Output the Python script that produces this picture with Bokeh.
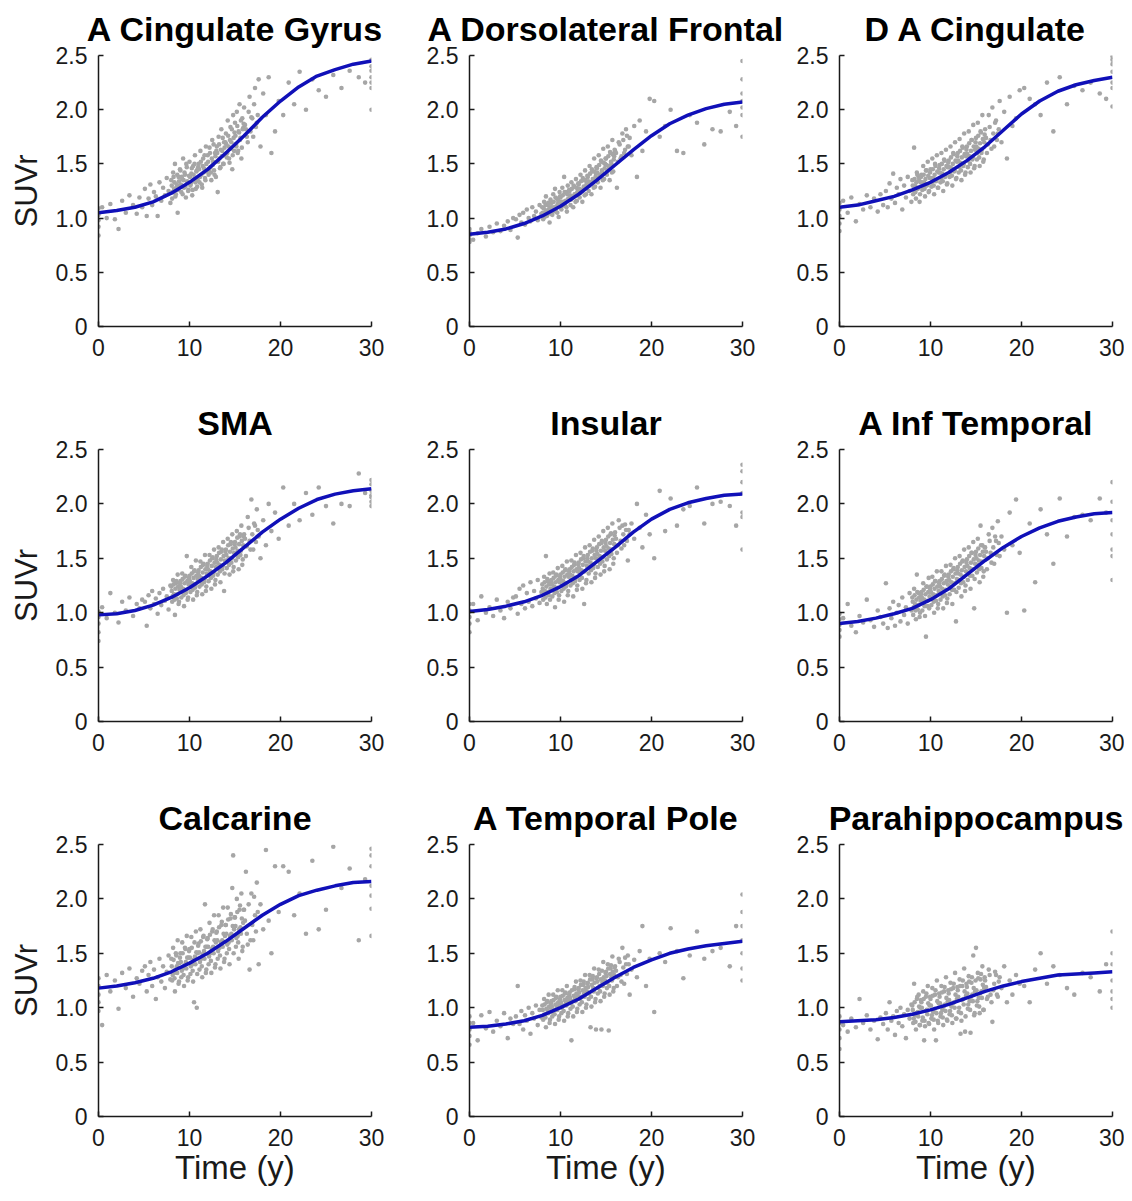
import json
from bokeh.plotting import figure
from bokeh.layouts import gridplot
from bokeh.models import Range1d, FixedTicker, CustomJSTickFormatter
from bokeh.embed import file_html
from bokeh.resources import INLINE

# ---------------- text / ticks ----------------
TITLES = ["A Cingulate Gyrus", "A Dorsolateral Frontal", "D A Cingulate",
          "SMA", "Insular", "A Inf Temporal",
          "Calcarine", "A Temporal Pole", "Parahippocampus"]
X_LABEL = "Time (y)"
Y_LABEL = "SUVr"
X_TICKS = [0, 10, 20, 30]
Y_TICKS = [0, 0.5, 1.0, 1.5, 2.0, 2.5]
Y_TICK_LABELS = ["0", "0.5", "1.0", "1.5", "2.0", "2.5"]

# ---------------- subjects' time (shared by all regions) ----------------
time_y = [
    0, 0, 0, 0, 0,
    0.4, 0.9, 1.3, 1.8, 2.2, 2.6, 3.0, 3.4, 3.8, 4.2, 4.5, 4.8,
    5.1, 5.3, 5.5, 5.7, 5.9, 6.1, 6.3, 6.5, 6.7, 6.9, 7.1, 7.3, 7.5, 7.7, 7.9,
    8.0, 8.1, 8.2, 8.3, 8.4, 8.5, 8.6, 8.7, 8.8, 8.9,
    9.0, 9.1, 9.2, 9.3, 9.4, 9.5, 9.6, 9.7, 9.8, 9.9,
    10.0, 10.1, 10.2, 10.3, 10.4, 10.5, 10.6, 10.7, 10.8, 10.9,
    11.0, 11.1, 11.2, 11.3, 11.4, 11.5, 11.6, 11.7, 11.8, 11.9,
    12.0, 12.1, 12.2, 12.3, 12.4, 12.5, 12.6, 12.7, 12.8, 12.9,
    13.0, 13.1, 13.2, 13.3, 13.4, 13.5, 13.6, 13.7, 13.8, 13.9,
    14.0, 14.1, 14.2, 14.3, 14.4, 14.5, 14.6, 14.7, 14.8, 14.9,
    15.0, 15.1, 15.2, 15.3, 15.4, 15.5, 15.6, 15.7, 15.8, 15.9,
    16.0, 16.2, 16.4, 16.6, 16.8, 17.0, 17.2, 17.4, 17.6, 17.8, 18.1, 18.4, 18.7, 19.0, 19.4, 19.8,
    20.3, 20.9, 21.5, 22.1, 22.8, 23.5, 24.2, 25.0, 25.8, 26.7, 27.6, 28.6, 29.3,
    30, 30, 30, 30, 30, 30, 30,
    8.05, 8.15, 8.25, 8.35, 8.45, 8.55, 8.65, 8.75, 8.85, 8.95,
    9.05, 9.15, 9.25, 9.35, 9.45, 9.55, 9.65, 9.75, 9.85, 9.95,
    10.05, 10.15, 10.25, 10.35, 10.45, 10.55, 10.65, 10.75, 10.85, 10.95,
    11.05, 11.15, 11.25, 11.35, 11.45, 11.55, 11.65, 11.75, 11.85, 11.95,
    12.05, 12.15, 12.25, 12.35, 12.45, 12.55, 12.65, 12.75, 12.85, 12.95,
    13.05, 13.15, 13.25, 13.35, 13.45, 13.55, 13.65, 13.75, 13.85, 13.95,
    14.05, 14.15, 14.25, 14.35, 14.45, 14.55, 14.65, 14.75, 14.85, 14.95,
    15.05, 15.15, 15.25, 15.35, 15.45, 15.55, 15.65, 15.75, 15.85, 15.95,
    16.1, 16.3, 16.5, 16.7, 16.9, 17.1, 17.3, 17.5,
]

# ---------------- SUVr per region ----------------
suvr_a_cingulate_gyrus = [
    0.84, 0.92, 0.98, 1.03, 1.09,
    1.10, 1.00, 1.13, 0.99, 0.90, 1.16, 1.05, 1.21, 1.12, 1.04, 1.19, 1.10,
    1.27, 1.02, 1.18, 1.31, 1.12, 1.24, 1.20, 1.02, 1.33, 1.16, 1.28, 1.21, 1.37, 1.25, 1.14,
    1.35, 1.18, 1.42, 1.27, 1.50, 1.22, 1.31, 1.05, 1.38, 1.29,
    1.44, 1.24, 1.36, 1.55, 1.28, 1.40, 1.19, 1.47, 1.33, 1.26,
    1.52, 1.30, 1.41, 1.21, 1.48, 1.36, 1.58, 1.27, 1.44, 1.35,
    1.50, 1.33, 1.62, 1.40, 1.28, 1.55, 1.46, 1.37, 1.66, 1.43,
    1.58, 1.40, 1.65, 1.47, 1.35, 1.72, 1.52, 1.44, 1.60, 1.38,
    1.66, 1.24, 1.75, 1.55, 1.47, 1.82, 1.62, 1.50, 1.70, 1.58,
    1.78, 1.56, 1.90, 1.66, 1.51, 1.84, 1.70, 1.45, 1.95, 1.62,
    1.88, 1.68, 1.98, 1.60, 1.80, 2.05, 1.74, 1.55, 1.92, 1.83,
    2.02, 1.82, 1.70, 2.12, 1.93, 1.75, 2.20, 1.88, 2.28, 1.66, 2.15, 1.95, 2.30, 1.60, 1.80, 2.08,
    1.95, 2.25, 2.05, 2.35, 2.00, 2.28, 2.18, 2.12, 2.32, 2.20, 2.36, 2.30, 2.25,
    2.00, 2.20, 2.25, 2.30, 2.36, 2.40, 2.46,
    1.30, 1.24, 1.38, 1.33, 1.20, 1.28, 1.40, 1.26, 1.34, 1.45,
    1.31, 1.38, 1.22, 1.35, 1.42, 1.29, 1.50, 1.34, 1.25, 1.39,
    1.38, 1.32, 1.46, 1.26, 1.40, 1.50, 1.33, 1.43, 1.29, 1.47,
    1.45, 1.38, 1.52, 1.31, 1.48, 1.42, 1.58, 1.35, 1.50, 1.44,
    1.52, 1.45, 1.60, 1.42, 1.55, 1.49, 1.68, 1.40, 1.57, 1.62,
    1.60, 1.52, 1.68, 1.46, 1.63, 1.57, 1.74, 1.50, 1.65, 1.70,
    1.68, 1.60, 1.76, 1.55, 1.72, 1.64, 1.82, 1.58, 1.74, 1.79,
    1.76, 1.66, 1.85, 1.62, 1.79, 1.72, 1.90, 1.65, 1.82, 1.87,
    1.86, 1.75, 1.98, 1.80, 1.92, 2.05, 1.84, 1.95,
]
suvr_a_dorsolateral_frontal = [
    0.80, 0.84, 0.87, 0.90, 0.78,
    0.80, 0.86, 0.90, 0.83, 0.92, 0.87, 0.95, 0.88, 0.93, 0.97, 0.89, 1.00,
    0.99, 0.82, 1.03, 0.96, 1.05, 0.94, 1.08, 1.00, 0.97, 1.10, 1.02, 1.06, 0.98, 1.12, 1.04,
    1.10, 0.99, 1.15, 1.05, 1.20, 1.02, 1.12, 1.08, 0.96, 1.17,
    1.14, 1.03, 1.22, 1.10, 1.27, 1.06, 1.18, 1.13, 1.01, 1.24,
    1.19, 1.08, 1.28, 1.15, 1.38, 1.12, 1.24, 1.06, 1.30, 1.17,
    1.25, 1.12, 1.33, 1.20, 1.10, 1.29, 1.22, 1.36, 1.16, 1.27,
    1.31, 1.19, 1.40, 1.26, 1.15, 1.35, 1.28, 1.44, 1.22, 1.33,
    1.38, 1.25, 1.48, 1.33, 1.22, 1.43, 1.35, 1.55, 1.29, 1.41,
    1.46, 1.33, 1.58, 1.40, 1.28, 1.52, 1.42, 1.64, 1.36, 1.50,
    1.55, 1.40, 1.66, 1.48, 1.35, 1.60, 1.50, 1.72, 1.43, 1.57,
    1.62, 1.28, 1.70, 1.55, 1.78, 1.60, 1.82, 1.66, 1.74, 1.58, 1.85, 1.38, 1.90, 1.62, 1.80, 2.10,
    2.08, 1.75, 1.85, 2.00, 1.62, 1.60, 1.95, 1.88, 1.68, 1.82, 1.80, 1.98, 1.85,
    1.75, 1.95, 2.02, 2.08, 2.15, 2.28, 2.45,
    1.05, 1.09, 1.01, 1.12, 1.07, 1.03, 1.14, 1.06, 1.10, 1.04,
    1.10, 1.06, 1.15, 1.08, 1.19, 1.11, 1.05, 1.16, 1.12, 1.20,
    1.15, 1.11, 1.21, 1.13, 1.24, 1.16, 1.10, 1.22, 1.18, 1.26,
    1.21, 1.17, 1.27, 1.19, 1.30, 1.22, 1.15, 1.28, 1.24, 1.32,
    1.27, 1.23, 1.34, 1.25, 1.37, 1.29, 1.21, 1.35, 1.31, 1.39,
    1.34, 1.30, 1.41, 1.32, 1.45, 1.36, 1.28, 1.43, 1.38, 1.47,
    1.42, 1.37, 1.49, 1.39, 1.53, 1.44, 1.35, 1.51, 1.46, 1.55,
    1.49, 1.44, 1.57, 1.46, 1.61, 1.52, 1.42, 1.59, 1.54, 1.63,
    1.60, 1.52, 1.68, 1.57, 1.72, 1.63, 1.76, 1.66,
]
suvr_d_a_cingulate = [
    0.88, 0.95, 1.02, 1.08, 1.14,
    1.16, 1.05, 1.19, 0.97, 1.13, 1.08, 1.21, 1.10, 1.18, 1.06, 1.22, 1.12,
    1.25, 1.10, 1.32, 1.18, 1.41, 1.14, 1.28, 1.22, 1.36, 1.08, 1.30, 1.19, 1.38, 1.25, 1.15,
    1.35, 1.22, 1.65, 1.30, 1.18, 1.42, 1.27, 1.38, 1.15, 1.33,
    1.40, 1.26, 1.48, 1.33, 1.20, 1.44, 1.30, 1.52, 1.24, 1.37,
    1.45, 1.29, 1.55, 1.37, 1.22, 1.50, 1.34, 1.58, 1.28, 1.42,
    1.49, 1.33, 1.60, 1.41, 1.25, 1.54, 1.38, 1.63, 1.31, 1.47,
    1.53, 1.38, 1.66, 1.46, 1.30, 1.60, 1.43, 1.70, 1.36, 1.52,
    1.60, 1.42, 1.73, 1.51, 1.35, 1.66, 1.48, 1.78, 1.40, 1.57,
    1.66, 1.47, 1.80, 1.57, 1.42, 1.72, 1.54, 1.86, 1.46, 1.63,
    1.74, 1.54, 1.88, 1.64, 1.48, 1.80, 1.60, 1.95, 1.52, 1.70,
    1.82, 1.60, 1.95, 1.72, 2.02, 1.66, 1.90, 1.78, 2.08, 1.70, 1.98, 1.55, 2.12, 1.85, 1.92, 2.18,
    2.20, 2.10, 2.05, 1.95, 2.25, 1.80, 2.30, 2.05, 2.22, 2.18, 2.25, 2.15, 2.10,
    2.03, 2.20, 2.25, 2.35, 2.42, 2.46, 2.49,
    1.30, 1.26, 1.36, 1.24, 1.33, 1.40, 1.28, 1.35, 1.22, 1.38,
    1.33, 1.29, 1.40, 1.27, 1.36, 1.44, 1.31, 1.39, 1.25, 1.42,
    1.37, 1.33, 1.45, 1.30, 1.40, 1.48, 1.35, 1.43, 1.28, 1.46,
    1.42, 1.37, 1.50, 1.34, 1.45, 1.53, 1.39, 1.48, 1.32, 1.51,
    1.47, 1.42, 1.56, 1.39, 1.50, 1.59, 1.44, 1.53, 1.37, 1.57,
    1.53, 1.47, 1.62, 1.44, 1.56, 1.65, 1.50, 1.59, 1.42, 1.63,
    1.59, 1.53, 1.69, 1.50, 1.62, 1.72, 1.56, 1.66, 1.48, 1.70,
    1.66, 1.60, 1.76, 1.56, 1.69, 1.79, 1.63, 1.73, 1.54, 1.77,
    1.74, 1.68, 1.84, 1.64, 1.78, 1.88, 1.72, 1.82,
]
suvr_sma = [
    0.74, 0.82, 0.90, 0.96, 1.01,
    1.05, 0.95, 1.18, 1.00, 0.91, 1.10, 1.02, 1.14, 0.97, 1.08, 1.04, 1.12,
    1.10, 0.88, 1.16, 1.04, 1.20, 1.08, 1.13, 0.99, 1.18, 1.07, 1.22, 1.11, 1.15, 1.03, 1.25,
    1.24, 1.10, 1.30, 1.17, 0.98, 1.27, 1.13, 1.35, 1.08, 1.21,
    1.29, 1.14, 1.36, 1.22, 1.06, 1.33, 1.18, 1.52, 1.12, 1.26,
    1.34, 1.19, 1.42, 1.27, 1.12, 1.38, 1.23, 1.48, 1.16, 1.31,
    1.39, 1.24, 1.47, 1.32, 1.17, 1.44, 1.28, 1.53, 1.20, 1.36,
    1.45, 1.29, 1.53, 1.38, 1.22, 1.50, 1.34, 1.58, 1.26, 1.42,
    1.52, 1.35, 1.60, 1.44, 1.28, 1.56, 1.40, 1.65, 1.20, 1.48,
    1.58, 1.41, 1.68, 1.50, 1.35, 1.63, 1.46, 1.72, 1.38, 1.55,
    1.65, 1.48, 1.75, 1.57, 1.40, 1.70, 1.53, 1.80, 1.44, 1.62,
    1.72, 1.52, 1.88, 1.66, 2.04, 1.58, 1.80, 1.95, 1.70, 1.50, 1.85, 1.62, 2.00, 1.75, 1.92, 1.68,
    2.15, 1.80, 2.00, 1.85, 2.10, 1.90, 2.15, 1.98, 1.82, 2.00, 1.98, 2.28, 2.10,
    1.98, 2.02, 2.08, 2.12, 2.18, 2.22, 2.06,
    1.20, 1.15, 1.26, 1.12, 1.22, 1.29, 1.17, 1.24, 1.10, 1.27,
    1.24, 1.19, 1.31, 1.16, 1.27, 1.34, 1.21, 1.29, 1.14, 1.32,
    1.29, 1.24, 1.36, 1.21, 1.32, 1.39, 1.26, 1.34, 1.19, 1.37,
    1.34, 1.29, 1.42, 1.26, 1.37, 1.45, 1.31, 1.40, 1.24, 1.43,
    1.40, 1.35, 1.48, 1.32, 1.43, 1.51, 1.37, 1.46, 1.30, 1.49,
    1.46, 1.41, 1.55, 1.38, 1.49, 1.58, 1.43, 1.52, 1.36, 1.56,
    1.53, 1.47, 1.62, 1.44, 1.56, 1.65, 1.50, 1.59, 1.42, 1.63,
    1.60, 1.54, 1.69, 1.51, 1.63, 1.72, 1.57, 1.66, 1.49, 1.70,
    1.68, 1.61, 1.78, 1.58, 1.72, 1.82, 1.65, 1.76,
]
suvr_insular = [
    0.82, 0.90, 0.96, 1.02, 1.08,
    1.08, 0.93, 1.15, 1.00, 1.05, 0.97, 1.12, 1.02, 0.95, 1.10, 1.04, 1.14,
    1.15, 0.99, 1.22, 1.08, 1.25, 1.04, 1.18, 1.10, 1.28, 1.06, 1.20, 1.13, 1.30, 1.09, 1.19,
    1.26, 1.12, 1.33, 1.20, 1.52, 1.08, 1.29, 1.16, 1.36, 1.22,
    1.30, 1.15, 1.37, 1.24, 1.05, 1.34, 1.19, 1.41, 1.12, 1.28,
    1.35, 1.20, 1.43, 1.29, 1.10, 1.39, 1.24, 1.47, 1.16, 1.33,
    1.40, 1.25, 1.48, 1.34, 1.15, 1.44, 1.29, 1.53, 1.21, 1.38,
    1.46, 1.30, 1.55, 1.39, 1.22, 1.50, 1.08, 1.60, 1.27, 1.43,
    1.53, 1.36, 1.62, 1.46, 1.28, 1.57, 1.41, 1.67, 1.32, 1.50,
    1.60, 1.42, 1.70, 1.52, 1.35, 1.64, 1.47, 1.75, 1.38, 1.57,
    1.67, 1.49, 1.78, 1.59, 1.40, 1.72, 1.54, 1.82, 1.45, 1.63,
    1.74, 1.55, 1.85, 1.66, 1.80, 1.62, 1.76, 1.48, 1.72, 1.82, 1.68, 2.00, 1.78, 1.60, 1.90, 1.72,
    1.50, 2.12, 1.75, 2.05, 1.80, 1.95, 1.98, 2.15, 1.82, 2.00, 2.02, 1.98, 1.80,
    1.58, 1.88, 1.92, 2.10, 2.20, 2.30, 2.36,
    1.22, 1.17, 1.28, 1.14, 1.24, 1.31, 1.19, 1.26, 1.12, 1.29,
    1.26, 1.21, 1.32, 1.18, 1.28, 1.35, 1.23, 1.30, 1.16, 1.33,
    1.30, 1.25, 1.37, 1.22, 1.33, 1.40, 1.27, 1.35, 1.20, 1.38,
    1.35, 1.30, 1.42, 1.27, 1.38, 1.46, 1.32, 1.40, 1.25, 1.44,
    1.41, 1.35, 1.49, 1.32, 1.44, 1.52, 1.38, 1.47, 1.30, 1.50,
    1.47, 1.42, 1.56, 1.39, 1.50, 1.59, 1.44, 1.53, 1.36, 1.57,
    1.54, 1.48, 1.63, 1.45, 1.57, 1.66, 1.51, 1.60, 1.43, 1.64,
    1.61, 1.55, 1.70, 1.52, 1.64, 1.73, 1.58, 1.67, 1.50, 1.71,
    1.68, 1.62, 1.78, 1.59, 1.72, 1.81, 1.66, 1.76,
]
suvr_a_inf_temporal = [
    0.78, 0.84, 0.89, 0.94, 0.99,
    0.95, 1.08, 0.88, 0.82, 0.97, 0.91, 1.12, 0.93, 0.87, 1.02, 0.96, 0.90,
    1.27, 0.86, 1.04, 0.95, 1.10, 0.88, 1.00, 1.07, 0.92, 1.14, 0.98, 1.05, 0.90, 1.18, 1.02,
    1.14, 0.98, 1.22, 1.08, 0.94, 1.35, 1.03, 1.18, 0.96, 1.11,
    1.19, 1.02, 1.27, 1.12, 0.97, 0.78, 1.24, 1.06, 1.32, 1.15,
    1.24, 1.07, 1.33, 1.17, 1.00, 1.29, 1.11, 1.38, 1.04, 1.20,
    1.29, 1.12, 1.38, 1.22, 1.04, 1.34, 1.16, 1.43, 1.09, 1.26,
    1.35, 1.17, 1.44, 1.28, 1.08, 1.40, 1.21, 1.50, 0.92, 1.31,
    1.42, 1.23, 1.52, 1.35, 1.15, 1.47, 1.28, 1.58, 1.20, 1.38,
    1.49, 1.30, 1.60, 1.41, 1.22, 1.55, 1.34, 1.65, 1.04, 1.45,
    1.56, 1.37, 1.68, 1.48, 1.28, 1.80, 1.41, 1.62, 1.33, 1.52,
    1.60, 1.40, 1.72, 1.55, 1.78, 1.45, 1.66, 1.84, 1.52, 1.70, 1.58, 1.00, 1.92, 1.62, 2.04, 1.55,
    1.02, 1.82, 1.28, 1.95, 1.72, 1.45, 2.05, 1.70, 1.88, 1.90, 1.85, 2.05, 1.92,
    1.30, 1.52, 1.58, 1.72, 1.85, 2.02, 2.20,
    1.10, 1.05, 1.16, 1.02, 1.12, 1.19, 1.07, 1.14, 1.00, 1.17,
    1.14, 1.09, 1.21, 1.06, 1.17, 1.24, 1.11, 1.19, 1.04, 1.22,
    1.19, 1.13, 1.26, 1.10, 1.22, 1.29, 1.16, 1.24, 1.08, 1.27,
    1.24, 1.18, 1.31, 1.15, 1.27, 1.35, 1.21, 1.29, 1.13, 1.33,
    1.30, 1.24, 1.38, 1.21, 1.33, 1.41, 1.27, 1.36, 1.19, 1.39,
    1.36, 1.30, 1.45, 1.27, 1.39, 1.48, 1.33, 1.42, 1.25, 1.46,
    1.43, 1.37, 1.52, 1.34, 1.46, 1.55, 1.40, 1.49, 1.31, 1.53,
    1.50, 1.44, 1.59, 1.40, 1.53, 1.62, 1.47, 1.56, 1.38, 1.60,
    1.56, 1.50, 1.66, 1.46, 1.60, 1.70, 1.53, 1.64,
]
suvr_calcarine = [
    0.97, 1.05, 1.12, 1.20, 1.27,
    0.84, 1.30, 1.15, 1.25, 0.99, 1.32, 1.18, 1.36, 1.10, 1.27, 1.22, 1.34,
    1.38, 1.15, 1.30, 1.42, 1.20, 1.35, 1.08, 1.28, 1.45, 1.24, 1.38, 1.18, 1.33, 1.48, 1.26,
    1.45, 1.25, 1.55, 1.32, 1.15, 1.50, 1.38, 1.62, 1.22, 1.41,
    1.50, 1.28, 1.60, 1.36, 1.20, 1.55, 1.42, 1.66, 1.25, 1.46,
    1.54, 1.31, 1.65, 1.40, 1.24, 1.05, 1.47, 1.70, 1.00, 1.50,
    1.59, 1.35, 1.72, 1.45, 1.28, 1.65, 1.52, 1.95, 1.32, 1.56,
    1.64, 1.40, 1.78, 1.50, 1.32, 1.70, 1.56, 1.85, 1.37, 1.60,
    1.70, 1.45, 1.85, 1.55, 1.36, 1.76, 1.62, 1.92, 1.42, 1.66,
    1.76, 1.50, 1.92, 1.60, 1.40, 1.82, 1.68, 2.10, 2.40, 1.72,
    1.83, 1.56, 2.00, 1.66, 1.45, 1.90, 1.74, 2.05, 1.52, 1.78,
    1.90, 2.25, 1.58, 1.35, 2.05, 1.62, 1.85, 2.15, 1.40, 1.95, 1.72, 2.45, 1.80, 1.50, 2.30, 1.88,
    2.30, 2.25, 1.85, 2.05, 1.68, 2.35, 1.72, 1.90, 2.48, 2.10, 2.28, 1.62, 2.18,
    1.66, 1.91, 2.03, 2.12, 2.30, 2.40, 2.46,
    1.38, 1.30, 1.44, 1.27, 1.35, 1.48, 1.32, 1.41, 1.24, 1.46,
    1.42, 1.34, 1.50, 1.30, 1.39, 1.54, 1.36, 1.46, 1.28, 1.52,
    1.46, 1.38, 1.55, 1.34, 1.44, 1.60, 1.40, 1.51, 1.31, 1.57,
    1.51, 1.42, 1.61, 1.38, 1.49, 1.66, 1.45, 1.56, 1.35, 1.63,
    1.56, 1.47, 1.67, 1.43, 1.54, 1.72, 1.50, 1.62, 1.40, 1.69,
    1.62, 1.52, 1.74, 1.48, 1.60, 1.79, 1.56, 1.68, 1.45, 1.76,
    1.68, 1.58, 1.81, 1.54, 1.66, 1.86, 1.62, 1.75, 1.50, 1.83,
    1.75, 1.64, 1.88, 1.60, 1.72, 1.94, 1.68, 1.82, 1.56, 1.90,
    1.80, 1.68, 1.95, 1.62, 1.76, 2.02, 1.70, 1.88,
]
suvr_a_temporal_pole = [
    0.66, 0.74, 0.80, 0.86, 0.92,
    0.86, 0.70, 0.93, 0.81, 0.96, 0.78, 0.88, 0.83, 0.95, 0.72, 0.90, 0.85,
    0.92, 1.20, 0.85, 0.97, 0.80, 0.93, 0.88, 1.00, 0.76, 0.95, 0.90, 1.02, 0.84, 0.98, 0.91,
    1.02, 0.89, 1.08, 0.94, 0.82, 1.05, 0.97, 1.12, 0.86, 1.00,
    1.06, 0.92, 1.12, 0.98, 0.85, 1.09, 1.01, 1.16, 0.89, 1.03,
    1.10, 0.95, 1.16, 1.02, 0.88, 1.13, 1.05, 1.20, 0.92, 1.07,
    1.14, 0.99, 0.70, 1.06, 0.92, 1.17, 1.09, 1.24, 0.96, 1.11,
    1.18, 1.03, 1.25, 1.10, 0.96, 1.21, 1.13, 1.30, 1.00, 1.15,
    1.23, 1.08, 1.30, 0.82, 1.01, 1.26, 1.18, 1.36, 1.05, 0.80,
    1.28, 1.13, 1.35, 1.20, 1.06, 0.80, 1.23, 1.42, 1.10, 1.25,
    1.33, 1.18, 1.40, 0.79, 1.12, 1.36, 1.28, 1.47, 1.15, 1.30,
    1.38, 1.20, 1.45, 1.30, 1.55, 1.22, 1.40, 1.48, 1.12, 1.35, 1.44, 1.28, 1.52, 1.75, 1.20, 1.45,
    0.96, 1.50, 1.42, 1.73, 1.52, 1.27, 1.48, 1.70, 1.45, 1.52, 1.55, 1.38, 1.75,
    1.25, 1.36, 1.50, 1.62, 1.75, 1.88, 2.04,
    0.98, 0.93, 1.03, 0.91, 0.99, 1.06, 0.95, 1.01, 0.89, 1.04,
    1.01, 0.96, 1.07, 0.94, 1.03, 1.10, 0.98, 1.05, 0.92, 1.08,
    1.05, 1.00, 1.11, 0.97, 1.07, 1.14, 1.02, 1.09, 0.95, 1.12,
    1.09, 1.04, 1.16, 1.01, 1.11, 1.19, 1.06, 1.13, 0.99, 1.17,
    1.14, 1.08, 1.21, 1.05, 1.16, 1.24, 1.10, 1.18, 1.03, 1.22,
    1.19, 1.13, 1.26, 1.10, 1.21, 1.29, 1.15, 1.23, 1.08, 1.27,
    1.24, 1.18, 1.31, 1.15, 1.26, 1.34, 1.20, 1.28, 1.13, 1.32,
    1.29, 1.23, 1.36, 1.20, 1.31, 1.39, 1.25, 1.33, 1.18, 1.37,
    1.34, 1.28, 1.42, 1.24, 1.37, 1.46, 1.31, 1.40,
]
suvr_parahippocampus = [
    0.62, 0.72, 0.80, 0.86, 0.92,
    0.84, 0.78, 0.90, 0.82, 1.08, 0.86, 0.93, 0.80, 0.88, 0.71, 0.91, 0.85,
    0.95, 0.80, 1.05, 0.88, 0.92, 0.75, 0.97, 0.86, 1.00, 0.83, 0.94, 0.72, 0.98, 0.90, 1.03,
    1.02, 0.86, 1.22, 0.93, 0.80, 1.08, 0.96, 1.12, 0.84, 1.00,
    1.05, 0.88, 1.15, 0.70, 0.83, 1.10, 0.98, 1.20, 0.86, 1.02,
    1.08, 0.90, 1.18, 0.96, 0.80, 1.12, 0.70, 1.25, 0.88, 1.04,
    1.10, 0.92, 1.20, 0.98, 0.84, 1.15, 1.03, 1.28, 0.89, 1.06,
    1.13, 0.94, 1.23, 1.01, 0.86, 1.18, 1.05, 1.32, 0.90, 1.08,
    1.16, 0.96, 1.26, 0.76, 0.88, 1.20, 1.08, 1.36, 0.78, 1.11,
    1.19, 0.99, 1.29, 1.06, 0.77, 1.23, 1.12, 1.48, 0.93, 1.15,
    1.55, 1.02, 1.32, 1.09, 0.95, 1.26, 1.15, 1.38, 0.98, 1.18,
    1.25, 1.08, 1.35, 1.12, 0.87, 1.22, 1.30, 1.10, 1.28, 1.18, 1.38, 1.05, 1.25, 1.12, 1.30, 1.22,
    1.20, 1.05, 1.35, 1.50, 1.22, 1.38, 1.30, 1.18, 1.12, 1.32, 1.28, 1.15, 1.40,
    1.00, 1.08, 1.15, 1.25, 1.40, 1.50, 1.70,
    0.98, 0.90, 1.05, 0.87, 0.95, 1.10, 0.92, 1.01, 0.84, 1.07,
    1.00, 0.91, 1.08, 0.88, 0.97, 1.13, 0.94, 1.04, 0.85, 1.10,
    1.02, 0.93, 1.11, 0.89, 0.99, 1.16, 0.95, 1.06, 0.86, 1.13,
    1.04, 0.95, 1.14, 0.91, 1.01, 1.19, 0.97, 1.09, 0.88, 1.16,
    1.07, 0.97, 1.17, 0.93, 1.04, 1.22, 1.00, 1.12, 0.90, 1.19,
    1.10, 1.00, 1.20, 0.95, 1.07, 1.25, 1.03, 1.15, 0.92, 1.22,
    1.13, 1.03, 1.24, 0.98, 1.10, 1.28, 1.06, 1.18, 0.95, 1.25,
    1.16, 1.06, 1.27, 1.01, 1.13, 1.31, 1.09, 1.21, 0.98, 1.28,
    1.19, 1.10, 1.30, 1.05, 1.16, 1.33, 1.12, 1.24,
]

# ---------------- fitted curves (read every 2 years) ----------------
fit_time = [0, 2, 4, 6, 8, 10, 12, 14, 16, 18, 20, 22, 24, 26, 28, 30]
fit_a_cingulate_gyrus = [1.05, 1.07, 1.10, 1.15, 1.23, 1.33, 1.45, 1.60, 1.76, 1.93, 2.08, 2.21, 2.31, 2.37, 2.42, 2.45]
fit_a_dorsolateral_frontal = [0.85, 0.87, 0.90, 0.95, 1.02, 1.11, 1.22, 1.35, 1.49, 1.63, 1.76, 1.87, 1.95, 2.01, 2.05, 2.07]
fit_d_a_cingulate = [1.10, 1.12, 1.16, 1.20, 1.26, 1.33, 1.42, 1.53, 1.66, 1.81, 1.96, 2.08, 2.17, 2.23, 2.27, 2.30]
fit_sma = [0.98, 0.99, 1.02, 1.07, 1.14, 1.23, 1.34, 1.46, 1.60, 1.74, 1.86, 1.96, 2.04, 2.09, 2.12, 2.14]
fit_insular = [1.01, 1.03, 1.06, 1.10, 1.16, 1.24, 1.34, 1.47, 1.60, 1.74, 1.86, 1.95, 2.01, 2.05, 2.08, 2.09]
fit_a_inf_temporal = [0.90, 0.92, 0.95, 0.99, 1.04, 1.12, 1.22, 1.35, 1.48, 1.60, 1.70, 1.78, 1.84, 1.88, 1.91, 1.92]
fit_calcarine = [1.18, 1.20, 1.23, 1.27, 1.33, 1.41, 1.50, 1.61, 1.73, 1.85, 1.95, 2.03, 2.08, 2.12, 2.15, 2.16]
fit_a_temporal_pole = [0.82, 0.83, 0.85, 0.88, 0.93, 1.00, 1.08, 1.18, 1.28, 1.37, 1.44, 1.50, 1.54, 1.57, 1.59, 1.61]
fit_parahippocampus = [0.87, 0.88, 0.89, 0.91, 0.94, 0.98, 1.03, 1.09, 1.15, 1.20, 1.24, 1.27, 1.30, 1.31, 1.32, 1.33]

SUVR = [suvr_a_cingulate_gyrus, suvr_a_dorsolateral_frontal, suvr_d_a_cingulate,
        suvr_sma, suvr_insular, suvr_a_inf_temporal,
        suvr_calcarine, suvr_a_temporal_pole, suvr_parahippocampus]
FITS = [fit_a_cingulate_gyrus, fit_a_dorsolateral_frontal, fit_d_a_cingulate,
        fit_sma, fit_insular, fit_a_inf_temporal,
        fit_calcarine, fit_a_temporal_pole, fit_parahippocampus]

# ---------------- layout / style ----------------
FONT = "Liberation Sans"
INK = "#1a1a1a"
DOT = "#a6a6a6"
LINE = "#1010b8"
COL_W = [400, 387, 337]
COL_LEFT = [98, 69, 52]
COL_RIGHT = [29, 45, 12]
ROW_H = [393, 393, 402]
ROW_TOP = [54, 56, 58]
ROW_BOTTOM = [67, 65, 72]

ytick_code = ("const t = %s; const l = %s;"
              "for (let i = 0; i < t.length; i++) { if (Math.abs(t[i] - tick) < 1e-6) return l[i]; }"
              "return '';") % (json.dumps(Y_TICKS), json.dumps(Y_TICK_LABELS))

rows = []
for r in range(3):
    row = []
    for c in range(3):
        k = r * 3 + c
        p = figure(width=COL_W[c], height=ROW_H[r], output_backend="svg",
                   toolbar_location=None, tools="",
                   x_range=Range1d(0, 30), y_range=Range1d(0, 2.5),
                   min_border_left=COL_LEFT[c], min_border_right=COL_RIGHT[c],
                   min_border_top=ROW_TOP[r], min_border_bottom=ROW_BOTTOM[r],
                   title=TITLES[k])
        p.outline_line_color = None
        p.xgrid.grid_line_color = None
        p.ygrid.grid_line_color = None
        p.background_fill_color = "white"
        p.border_fill_color = "white"

        p.title.text_font = FONT
        p.title.text_font_size = "34px"
        p.title.text_font_style = "bold"
        p.title.text_color = "black"
        p.title.align = "center"
        p.title.standoff = 15

        n = min(len(time_y), len(SUVR[k]))
        p.scatter(time_y[:n], SUVR[k][:n], size=4.6, fill_color=DOT, line_color=None)
        p.line(fit_time, FITS[k], line_color=LINE, line_width=3.5)

        xa = p.xaxis[0]
        xa.ticker = FixedTicker(ticks=X_TICKS)
        xa.major_tick_in = 5
        xa.major_tick_out = 0
        xa.major_label_standoff = 12
        ya = p.yaxis[0]
        ya.ticker = FixedTicker(ticks=Y_TICKS)
        ya.formatter = CustomJSTickFormatter(code=ytick_code)
        ya.major_tick_in = 5
        ya.major_tick_out = 0
        ya.major_label_standoff = 11
        for ax in (xa, ya):
            ax.axis_line_color = INK
            ax.axis_line_width = 1.5
            ax.major_tick_line_color = INK
            ax.major_tick_line_width = 1.5
            ax.minor_tick_line_color = None
            ax.major_label_text_font = FONT
            ax.major_label_text_font_size = "23px"
            ax.major_label_text_color = INK
            ax.axis_label_text_font = FONT
            ax.axis_label_text_font_style = "normal"
            ax.axis_label_text_color = INK
        if c == 0:
            ya.axis_label = Y_LABEL
            ya.axis_label_text_font_size = "31px"
            ya.axis_label_standoff = 9
        if r == 2:
            xa.axis_label = X_LABEL
            xa.axis_label_text_font_size = "33px"
            xa.axis_label_standoff = 0
        row.append(p)
    rows.append(row)

grid = gridplot(rows, toolbar_location=None)
open("out.html", "w").write(file_html(grid, INLINE))
